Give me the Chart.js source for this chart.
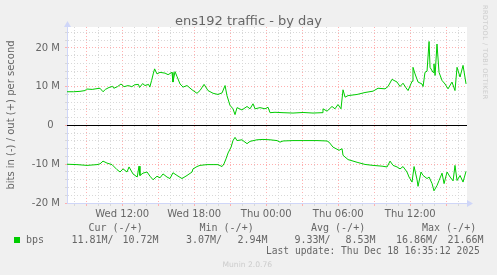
<!DOCTYPE html>
<html>
<head>
<meta charset="utf-8">
<script src="https://cdn.jsdelivr.net/npm/chart.js@4"></script>
<style>
body { margin: 0; background: #f0f0f0; }
#wrap { position: relative; width: 497px; height: 275px; overflow: hidden; font-family: "DejaVu Sans", sans-serif; color: #666; }
canvas { position: absolute; left: 0; top: 0; }
.t { position: absolute; white-space: pre; line-height: 1; }
.mono { font-family: "DejaVu Sans Mono", monospace; font-size: 10px; }
</style>
</head>
<body>
<div id="wrap">
<canvas id="chart" width="497" height="275"></canvas>
<div class="t" style="left:0;width:497px;text-align:center;top:14px;font-size:13px;">ens192 traffic - by day</div>
<div class="t" style="left:488.4px;top:5px;font-size:6.5px;letter-spacing:0.5px;color:#cccccc;transform:rotate(90deg);transform-origin:0 0;">RRDTOOL / TOBI OETIKER</div>
<div id="legend"></div>
<div class="t" style="left:222.5px;top:260.8px;font-size:7.6px;color:#cccccc;">Munin 2.0.76</div>
</div>
<script>
// hours since Wed 00:00, values in Mbit/s
const outHours = [7.4, 7.95, 8.48, 8.9, 9.05, 9.5, 9.9, 10.15, 10.4, 10.6, 10.9, 11.2, 11.3, 11.6, 11.9, 12.15, 12.5, 12.8,
    13.05, 13.35, 13.45, 13.7, 13.9, 14.2, 14.3, 14.45, 14.6, 14.7, 14.9, 15.15, 15.57, 15.82, 16.15, 16.23, 16.4, 16.57,
    16.82, 17.07, 17.4, 17.82, 18.23, 18.48, 18.82, 19.15, 19.57, 19.98, 20.32, 20.57, 20.73, 20.98, 21.23, 21.4, 21.57,
    21.98, 22.4, 22.65, 22.9, 23.07, 23.48, 23.9, 24.15, 24.32, 24.73, 25.4, 26.23, 27.07, 27.9, 28.65, 28.73, 29.07,
    29.48, 29.73, 29.98, 30.23, 30.4, 30.57, 30.82, 31.57, 32.23, 32.9, 33.32, 33.9, 34.15, 34.48, 34.9, 35.15, 35.4,
    35.65, 35.82, 36.15, 36.23, 36.4, 36.65, 36.98, 37.07, 37.23, 37.4, 37.57, 37.65, 37.9, 37.98, 38.07, 38.23, 38.4,
    38.65, 38.9, 39.15, 39.48, 39.73, 39.9, 40.15, 40.4, 40.65];
const outMbps = [8.7, 8.7, 8.8, 9.0, 9.4, 9.3, 9.5, 9.6, 8.7, 9.3, 9.8, 10.1, 9.6, 10.0, 10.7, 10.0, 10.3, 10.0,
    10.5, 10.6, 9.8, 10.8, 10.3, 10.6, 9.9, 11.6, 13.5, 14.6, 13.3, 13.7, 13.5, 13.1, 13.7, 11.2, 13.9, 12.6,
    10.7, 9.9, 10.3, 9.2, 8.3, 9.0, 10.6, 9.0, 8.3, 8.0, 8.4, 10.3, 7.7, 5.2, 4.3, 2.8, 4.6,
    4.0, 4.9, 4.3, 5.6, 4.3, 4.6, 4.3, 4.7, 3.3, 3.4, 3.3, 3.2, 3.35, 3.2, 3.3, 4.3, 3.7,
    4.9, 4.3, 5.4, 4.3, 9.2, 7.3, 7.7, 8.0, 8.5, 8.85, 9.6, 9.45, 10.05, 11.9, 11.2, 10.05, 10.9,
    9.7, 9.0, 11.4, 15.0, 13.3, 11.2, 10.7, 10.05, 13.7, 14.0, 21.66, 15.0, 13.7, 15.9, 12.9, 21.0, 13.7,
    11.6, 10.7, 9.45, 11.2, 9.0, 15.0, 12.5, 15.5, 10.72];

const inHours = [7.4, 8.23, 9.07, 9.9, 10.15, 10.4, 10.73, 11.15, 11.57, 11.82, 12.07, 12.4, 12.57, 12.9, 13.25, 13.4,
    13.48, 13.73, 14.07, 14.32, 14.57, 14.9, 15.15, 15.4, 15.73, 15.98, 16.23, 16.57, 16.98, 17.4, 17.82, 17.9, 18.23,
    18.48, 19.07, 19.57, 19.98, 20.32, 20.48, 20.65, 20.82, 21.07, 21.23, 21.4, 21.57, 21.98, 22.4, 22.65, 23.23, 23.73,
    24.32, 24.9, 25.15, 25.4, 26.23, 27.07, 28.23, 29.07, 29.23, 29.57, 29.82, 30.07, 30.32, 30.4, 30.82, 31.57, 32.23,
    32.9, 33.65, 34.07, 34.32, 34.57, 34.9, 35.15, 35.4, 35.73, 35.9, 36.15, 36.32, 36.57, 36.65, 36.9, 37.07, 37.4,
    37.57, 37.82, 37.98, 38.23, 38.4, 38.65, 38.82, 39.07, 39.32, 39.57, 39.73, 39.9, 40.15, 40.4, 40.65];
const inMbps = [10.0, 10.1, 10.3, 10.1, 9.9, 9.2, 9.7, 10.1, 11.4, 12.0, 11.2, 12.0, 10.7, 12.5, 13.3, 10.5,
    12.9, 12.3, 12.0, 13.1, 14.0, 13.1, 13.5, 12.5, 13.3, 13.7, 12.2, 12.9, 13.7, 12.9, 12.0, 11.2, 10.6,
    10.3, 10.1, 10.1, 10.1, 10.6, 9.9, 8.6, 7.1, 5.6, 3.9, 3.07, 3.9, 3.7, 4.7, 4.1, 3.7, 3.6,
    3.7, 3.9, 4.3, 4.0, 3.9, 3.9, 3.9, 4.0, 4.3, 5.6, 6.0, 6.4, 6.0, 7.7, 8.8, 9.5, 10.05,
    10.3, 10.5, 10.7, 9.2, 10.3, 10.7, 11.2, 10.6, 12.0, 13.3, 14.6, 10.6, 14.0, 15.7, 12.0, 12.9, 13.7,
    13.3, 15.0, 16.86, 15.5, 14.2, 12.3, 15.0, 12.0, 13.3, 14.3, 10.3, 14.2, 12.9, 14.6, 11.81];

const timeTickHours = [12, 18, 24, 30, 36];
const timeTickLabels = ['Wed 12:00', 'Wed 18:00', 'Thu 00:00', 'Thu 06:00', 'Thu 12:00'];

const legendHeads = ['Cur (-/+)', 'Min (-/+)', 'Avg (-/+)', 'Max (-/+)'];
const legendIn = ['11.81M/', '3.07M/', '9.33M/', '16.86M/'];
const legendOut = ['10.72M', '2.94M', '8.53M', '21.66M'];
const lastUpdate = 'Last update: Thu Dec 18 16:35:12 2025';

const startHour = 7.4;
const endHour = 40.73;

const GREEN = '#00cc00';
const MGRID = '#ffb0b0';
const GRID = '#d8d8d8';
const AXIS = '#cfd6f8';

// legend block under the chart
const legend = document.getElementById('legend');
function addText(text, left, top, cls, style) {
    const d = document.createElement('div');
    d.className = 't ' + cls;
    d.style.left = left + 'px';
    d.style.top = top + 'px';
    if (style) d.style.cssText += style;
    d.textContent = text;
    legend.appendChild(d);
}
const headLeft = [88.5, 199.5, 311, 422];
const inLeft = [71.5, 186, 294.5, 396];
const outRight = [158.5, 267.5, 375.5, 483.5];
legendHeads.forEach((h, i) => addText(h, headLeft[i], 222.5, 'mono'));
const sw = document.createElement('div');
sw.style.cssText = 'position:absolute;left:14px;top:237px;width:6px;height:6px;background:' + GREEN;
legend.appendChild(sw);
addText('bps', 26, 234.8, 'mono');
legendIn.forEach((v, i) => addText(v, inLeft[i], 234.8, 'mono'));
legendOut.forEach((v, i) => addText(v, outRight[i] - v.length * 6.02, 234.8, 'mono'));
addText(lastUpdate, 266, 245.9, 'mono', 'font-size:9.6px;');

const plotBackground = {
    id: 'plotBackground',
    beforeDraw(chart) {
        const { ctx, chartArea } = chart;
        ctx.save();
        ctx.fillStyle = '#ffffff';
        ctx.fillRect(chartArea.left, chartArea.top, chartArea.width, chartArea.height);
        ctx.restore();
    }
};

const zeroLineAndArrows = {
    id: 'zeroLineAndArrows',
    beforeDatasetsDraw(chart) {
        const { ctx, chartArea, scales } = chart;
        const y = Math.round(scales.y.getPixelForValue(0)) + 0.5;
        ctx.save();
        ctx.strokeStyle = '#000000';
        ctx.lineWidth = 1;
        ctx.beginPath();
        ctx.moveTo(chartArea.left, y);
        ctx.lineTo(chartArea.right, y);
        ctx.stroke();
        ctx.restore();
    },
    afterDraw(chart) {
        const { ctx, chartArea } = chart;
        const x = chartArea.left + 0.5;
        const b = chartArea.bottom + 0.5;
        ctx.save();
        ctx.fillStyle = AXIS;
        ctx.beginPath();
        ctx.moveTo(x, chartArea.top - 6);
        ctx.lineTo(x - 3.5, chartArea.top);
        ctx.lineTo(x + 3.5, chartArea.top);
        ctx.closePath();
        ctx.fill();
        ctx.beginPath();
        ctx.moveTo(chartArea.right + 6, b);
        ctx.lineTo(chartArea.right, b - 3.5);
        ctx.lineTo(chartArea.right, b + 3.5);
        ctx.closePath();
        ctx.fill();
        ctx.restore();
    }
};

const chart = new Chart(document.getElementById('chart'), {
    type: 'line',
    data: {
        datasets: [{
            label: 'out',
            data: outHours.map((h, i) => ({ x: h, y: outMbps[i] })),
            borderColor: GREEN,
            borderWidth: 1,
            pointRadius: 0,
            tension: 0
        }, {
            label: 'in',
            data: inHours.map((h, i) => ({ x: h, y: -inMbps[i] })),
            borderColor: GREEN,
            borderWidth: 1,
            pointRadius: 0,
            tension: 0
        }]
    },
    options: {
        responsive: false,
        devicePixelRatio: 1,
        animation: false,
        layout: { padding: { left: 0, right: 30, top: 27, bottom: 52 } },
        plugins: {
            legend: { display: false },
            title: { display: false },
            tooltip: { enabled: false }
        },
        scales: {
            x: {
                type: 'linear',
                min: startHour,
                max: endHour,
                afterBuildTicks: scale => {
                    // a grid line every hour
                    const ticks = [];
                    for (let h = Math.ceil(startHour); h <= endHour; h += 1) ticks.push({ value: h });
                    scale.ticks = ticks;
                },
                afterFit: scale => { scale.height = 20; },
                ticks: {
                    autoSkip: false,
                    maxRotation: 0,
                    minRotation: 0,
                    padding: 2,
                    color: '#666',
                    font: { family: 'DejaVu Sans', size: 10 },
                    callback: value => {
                        const i = timeTickHours.indexOf(value);
                        return i >= 0 ? timeTickLabels[i] : '';
                    }
                },
                grid: {
                    color: ctx => (ctx.tick && ctx.tick.value % 3 === 0) ? MGRID : GRID,
                    tickColor: ctx => (ctx.tick && ctx.tick.value % 3 === 0) ? MGRID : GRID,
                    tickLength: 3,
                    lineWidth: 1
                },
                border: { color: AXIS, width: 1, dash: [1, 2] }
            },
            y: {
                min: -20,
                max: 25.4,
                afterFit: scale => { scale.width = 67; },
                ticks: {
                    stepSize: 2,
                    includeBounds: false,
                    autoSkip: false,
                    padding: 5,
                    color: '#666',
                    font: { family: 'DejaVu Sans', size: 10 },
                    callback: value => {
                        if (value === 0) return '0\u00a0\u00a0';
                        return value % 10 === 0 ? value + ' M' : '';
                    }
                },
                grid: {
                    color: ctx => (ctx.tick && ctx.tick.value === 0) ? 'rgba(0,0,0,0)' : (ctx.tick && ctx.tick.value % 10 === 0 ? MGRID : GRID),
                    tickColor: ctx => (ctx.tick && ctx.tick.value % 10 === 0) ? MGRID : GRID,
                    tickLength: 2,
                    lineWidth: 1
                },
                border: { color: AXIS, width: 1, dash: [1, 2] },
                title: {
                    display: true,
                    text: 'bits in (-) / out (+) per second',
                    color: '#666',
                    font: { family: 'DejaVu Sans', size: 10 },
                    padding: { top: 5.5, bottom: 0 }
                }
            }
        }
    },
    plugins: [plotBackground, zeroLineAndArrows]
});
</script>
</body>
</html>
